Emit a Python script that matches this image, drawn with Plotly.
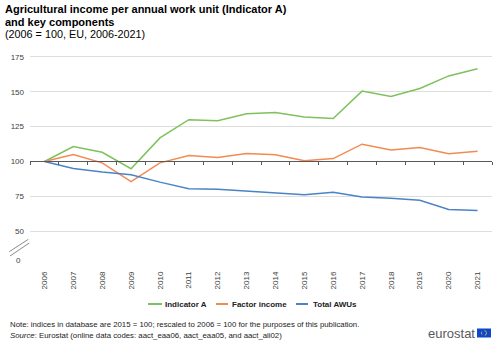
import plotly.graph_objects as go

years = list(range(2006, 2022))
indicator_a = [100, 110.7, 106.6, 94.8, 116.9, 130.0, 129.3, 134.2, 135.2, 131.9, 130.9, 150.5, 146.7, 152.4, 161.4, 166.6]
factor_income = [100, 105.0, 99.0, 85.5, 99.0, 104.3, 102.9, 105.7, 104.8, 100.5, 102.1, 112.4, 108.3, 110.0, 105.5, 107.4]
total_awus = [100, 95.0, 92.4, 90.5, 85.2, 80.5, 80.0, 78.8, 77.6, 76.2, 77.9, 74.5, 73.6, 72.1, 65.5, 64.8]
y_tickvals = [25, 50, 75, 100, 125, 150, 175]
y_ticktext = ["", "50", "75", "100", "125", "150", "175"]

names = ["Indicator A", "Factor income", "Total AWUs"]
colors = ["#7DC25C", "#F28A52", "#4A84C6"]

W, H = 500, 343
ML, MR, MT, MB = 30, 8, 50, 77
PW, PH = W - ML - MR, H - MT - MB
FONT = "Liberation Sans, Arial, sans-serif"

def px(x):
    return (x - ML) / PW

def py(y):
    return (H - MB - y) / PH

fig = go.Figure()
fig.add_trace(go.Scatter(x=years, y=indicator_a, mode="lines", name=names[0],
                         line=dict(color=colors[0], width=1.5), showlegend=False))
fig.add_trace(go.Scatter(x=years, y=factor_income, mode="lines", name=names[1],
                         line=dict(color=colors[1], width=1.5), showlegend=False))
fig.add_trace(go.Scatter(x=years, y=total_awus, mode="lines", name=names[2], xaxis="x2",
                         line=dict(color=colors[2], width=1.5), showlegend=False))

xr = [years[0] - 0.5, years[-1] + 0.5]
yr = [25, 180]

shapes = []
annotations = []

# axis break marks
shapes.append(dict(type="line", xref="paper", yref="paper", x0=px(9.3), y0=py(251.7), x1=px(28.3), y1=py(239.3),
                   line=dict(color="#8c8c8c", width=1)))
shapes.append(dict(type="line", xref="paper", yref="paper", x0=px(10), y0=py(256), x1=px(29.3), y1=py(243),
                   line=dict(color="#8c8c8c", width=1)))

# "0" label of broken axis
annotations.append(dict(text="0", xref="paper", yref="y", x=px(23), y=29.3, xanchor="right", yanchor="middle",
                        showarrow=False, font=dict(family=FONT, size=8, color="#404040")))

# custom legend
leg = [(148, 162, 163), (216, 228, 230), (296, 308, 311)]
for (x0, x1, tx), name, c in zip(leg, names, colors):
    shapes.append(dict(type="line", xref="paper", yref="paper", x0=px(x0), x1=px(x1), y0=py(304), y1=py(304),
                       line=dict(color=c, width=2)))
    annotations.append(dict(text="<b>" + name + "</b>", xref="paper", yref="paper", x=px(tx), y=py(304),
                            xanchor="left", yanchor="middle", showarrow=False,
                            font=dict(family=FONT, size=8, color="#222222")))

# titles
annotations.append(dict(text="<b>Agricultural income per annual work unit (Indicator A)</b>", xref="paper", yref="paper",
                        x=px(3), y=py(9), xanchor="left", yanchor="middle", showarrow=False,
                        font=dict(family=FONT, size=11, color="#000000")))
annotations.append(dict(text="<b>and key components</b>", xref="paper", yref="paper",
                        x=px(3), y=py(22), xanchor="left", yanchor="middle", showarrow=False,
                        font=dict(family=FONT, size=11, color="#000000")))
annotations.append(dict(text="(2006 = 100, EU, 2006-2021)", xref="paper", yref="paper",
                        x=px(3), y=py(34), xanchor="left", yanchor="middle", showarrow=False,
                        font=dict(family=FONT, size=10.8, color="#000000")))

# footer
annotations.append(dict(text="Note: indices in database are 2015 = 100; rescaled to 2006 = 100 for the purposes of this publication.",
                        xref="paper", yref="paper", x=px(8), y=py(324), xanchor="left", yanchor="middle",
                        showarrow=False, font=dict(family=FONT, size=7.8, color="#222222")))
annotations.append(dict(text="<i>Source</i>: Eurostat (online data codes: aact_eaa06, aact_eaa05, and aact_ali02)",
                        xref="paper", yref="paper", x=px(8), y=py(335.5), xanchor="left", yanchor="middle",
                        showarrow=False, font=dict(family=FONT, size=7.8, color="#222222")))

# eurostat logo
annotations.append(dict(text="eurostat", xref="paper", yref="paper", x=px(476.5), y=py(333), xanchor="right",
                        yanchor="middle", showarrow=False, font=dict(family=FONT, size=13, color="#5a5a5a")))
shapes.append(dict(type="rect", xref="paper", yref="paper", x0=px(477), x1=px(491), y0=py(337.5), y1=py(328.5),
                   fillcolor="#0E47CB", line=dict(width=0)))
shapes.append(dict(type="circle", xref="paper", yref="paper", x0=px(481.5), x1=px(486.5), y0=py(335.5), y1=py(330.5),
                   fillcolor="rgba(0,0,0,0)", line=dict(color="#FFD617", width=0.8, dash="dot")))

fig.update_layout(
    width=W, height=H,
    margin=dict(l=ML, r=MR, t=MT, b=MB),
    paper_bgcolor="white", plot_bgcolor="white",
    font=dict(family=FONT, size=8, color="#404040"),
    xaxis=dict(range=xr, tickmode="array", tickvals=years, ticktext=[str(y) for y in years],
               tickangle=-90, ticks="", showgrid=False, showline=False, zeroline=False,
               tickfont=dict(family=FONT, size=8, color="#404040"), ticklabelstandoff=3, fixedrange=True),
    xaxis2=dict(range=xr, overlaying="x", anchor="free", position=(100 - yr[0]) / (yr[1] - yr[0]),
                side="bottom", tickmode="array", tickvals=[y - 0.5 for y in years] + [years[-1] + 0.5],
                ticks="outside", ticklen=3, tickcolor="#595959", tickwidth=1,
                showticklabels=False, showgrid=False, zeroline=False,
                showline=True, linecolor="#595959", linewidth=1),
    yaxis=dict(range=yr, tickmode="array", tickvals=y_tickvals, ticktext=y_ticktext,
               showgrid=True, gridcolor="#dedede", gridwidth=1, zeroline=False, showline=False,
               ticks="", tickfont=dict(family=FONT, size=8, color="#404040"), ticklabelstandoff=5),
    shapes=shapes,
    annotations=annotations,
)

fig.write_html("out.html")
